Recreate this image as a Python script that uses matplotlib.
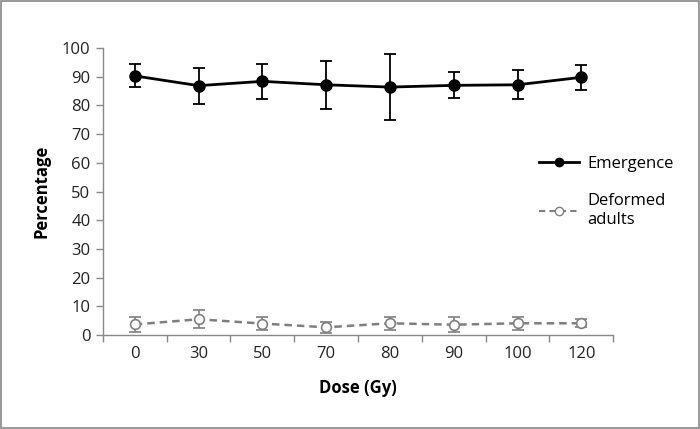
import matplotlib.pyplot as plt
from matplotlib.patches import Rectangle
from matplotlib.lines import Line2D
from matplotlib.ticker import FixedLocator, NullFormatter

# dose groups (categorical x axis)
doses = ['0', '30', '50', '70', '80', '90', '100', '120']

emergence = [90.3, 86.9, 88.4, 87.2, 86.4, 87.0, 87.2, 89.8]
emergence_err = [4.0, 6.3, 6.2, 8.3, 11.4, 4.5, 5.0, 4.4]

deformed = [3.7, 5.5, 4.0, 2.7, 4.1, 3.6, 4.1, 4.1]
deformed_err = [2.6, 3.2, 2.3, 2.0, 2.3, 2.6, 2.3, 1.4]

plt.rcParams['font.family'] = ['Open Sans', 'DejaVu Sans']

fig = plt.figure(figsize=(7, 4.29), dpi=100)
ax = fig.add_axes([0.147, 0.219, 0.729, 0.669])

x = list(range(len(doses)))

ax.errorbar(x, emergence, yerr=emergence_err, color='black', lw=2,
            marker='o', ms=8, mfc='black', mec='black',
            ecolor='black', elinewidth=1.3, capsize=4, capthick=1.3,
            zorder=3)
ax.errorbar(x, deformed, yerr=deformed_err, color='#7f7f7f', lw=1.8,
            ls='--', dashes=(3, 2), marker='o', ms=7, mfc='white',
            mec='#7f7f7f', mew=1.2, ecolor='#7f7f7f', elinewidth=1.2,
            capsize=4, capthick=1.2, zorder=3)

ax.set_xlim(-0.5, len(doses) - 0.5)
ax.set_ylim(0, 100)
ax.set_yticks(range(0, 101, 10))

# Excel-style: tick marks between categories, labels centred
ax.set_xticks(x)
ax.set_xticklabels(doses)
ax.tick_params(axis='x', which='major', length=0, pad=8)
ax.xaxis.set_minor_locator(FixedLocator([i - 0.5 for i in range(len(doses) + 1)]))
ax.xaxis.set_minor_formatter(NullFormatter())
ax.tick_params(axis='x', which='minor', length=5, color='#888888', width=1)
ax.tick_params(axis='y', length=5, color='#888888', width=1, pad=4)
ax.tick_params(labelsize=12, labelcolor='#222222')

for s in ['top', 'right']:
    ax.spines[s].set_visible(False)
for s in ['left', 'bottom']:
    ax.spines[s].set_color('#888888')
    ax.spines[s].set_linewidth(1)

ax.set_xlabel('Dose (Gy)', fontsize=12, fontweight='bold', labelpad=12)
ax.set_ylabel('Percentage', fontsize=12, fontweight='bold', labelpad=8)

handles = [
    Line2D([], [], color='black', lw=2, marker='o', ms=6, mfc='black'),
    Line2D([], [], color='#7f7f7f', lw=1.5, ls='--', dashes=(3, 2),
           marker='o', ms=6, mfc='white', mec='#7f7f7f'),
]
fig.legend(handles, ['Emergence', 'Deformed\nadults'], loc='upper left',
           bbox_to_anchor=(0.748, 0.672), frameon=False, fontsize=12,
           handlelength=2.4, labelspacing=1.3, handletextpad=0.5)

fig.patches.append(Rectangle((0.002, 0.003), 0.996, 0.994,
                             transform=fig.transFigure, fill=False,
                             edgecolor='#888888', lw=1.2))

fig.savefig('out.png', dpi=100)
